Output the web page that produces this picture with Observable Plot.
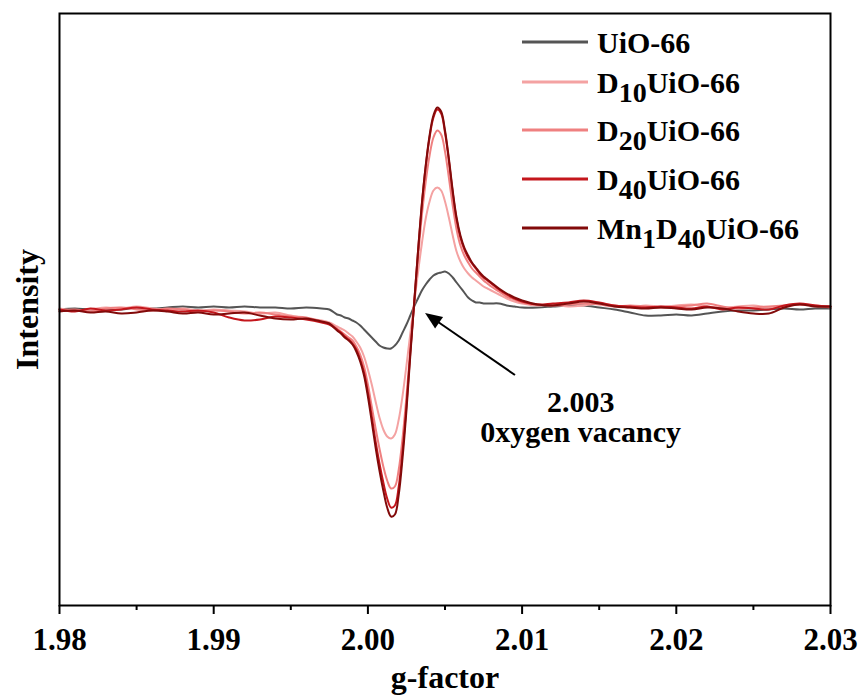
<!DOCTYPE html>
<html>
<head>
<meta charset="utf-8">
<script src="https://cdn.jsdelivr.net/npm/d3@7"></script>
<script src="https://cdn.jsdelivr.net/npm/@observablehq/plot@0.6"></script>
<style>
  html, body { margin: 0; padding: 0; background: #fff; }
  #chart { width: 863px; height: 695px; }
  #chart svg text { font-family: "Liberation Serif", "Times New Roman", serif; }
</style>
</head>
<body>
<div id="chart"></div>
<script>
// EPR spectra: g-factor sampling positions (denser across the resonance)
const gFactor = [
  1.980, 1.981, 1.982, 1.983, 1.984, 1.985, 1.986, 1.987, 1.988, 1.989,
  1.990, 1.991, 1.992, 1.993, 1.994, 1.995, 1.996, 1.997, 1.9975,
  1.99800, 1.99825, 1.99850, 1.99875, 1.99900, 1.99925, 1.99950, 1.99975,
  2.00000, 2.00025, 2.00050, 2.00075, 2.00100, 2.00125, 2.00150, 2.00175,
  2.00200, 2.00225, 2.00250, 2.00275, 2.00300, 2.00325, 2.00350, 2.00375,
  2.00400, 2.00425, 2.00450, 2.00475, 2.00500, 2.00525, 2.00550, 2.00575,
  2.00600, 2.00625, 2.00650, 2.00675, 2.00700, 2.00725, 2.00750, 2.00775,
  2.00800,
  2.0085, 2.0090, 2.0095, 2.0100,
  2.011, 2.012, 2.013, 2.014, 2.015, 2.016, 2.017, 2.018, 2.019, 2.020,
  2.021, 2.022, 2.023, 2.024, 2.025, 2.026, 2.027, 2.028, 2.029, 2.030
];

// Intensity (a.u.) of each sample at the positions above
const uio66 = [
  0, 1, 0, 1, 0, 2, 1, 2, 3, 2, 3, 2, 3, 2, 2, 1, 2, 1, 0,
  -5, -6, -8, -9, -11, -13, -16, -20, -24, -28, -32, -36, -38, -39, -39, -36,
  -31, -23, -15, -6, 3, 11, 19, 25, 30, 34, 36, 37, 38, 36, 32, 27,
  22, 17, 12, 9, 7, 7, 6, 6, 6,
  6, 4, 3, 2,
  2, 3, 4, 4, 2, 0, -3, -6, -6, -5, -6, -4, -2, -1, -1, 0, 1, 0, 1, 1
];
const d10UiO66 = [
  1, -1, 0, 2, 1, 3, 1, 0, 1, -1, 0, -1, -2, -4, -3, -6, -9, -11, -13,
  -17, -19, -21, -24, -27, -32, -38, -47, -60, -75, -92, -108, -120, -127, -129, -125,
  -110, -86, -56, -24, 6, 37, 66, 91, 108, 119, 122, 119, 108, 92, 74, 58,
  48, 41, 36, 32, 29, 26, 23, 21, 19,
  15, 11, 8, 6,
  4, 5, 3, 4, 6, 4, 2, 4, 3, 4, 5, 3, 2, 3, 4, 2, 3, 5, 4, 3
];
const d20UiO66 = [
  -1, 0, -2, 1, 2, 0, -1, 1, 0, -2, -1, -2, -4, -3, -5, -7, -8, -12, -14,
  -19, -22, -25, -28, -31, -37, -45, -57, -75, -97, -119, -139, -157, -171, -179, -177,
  -160, -128, -87, -40, 5, 51, 94, 128, 154, 172, 179, 175, 158, 132, 104, 80,
  64, 54, 47, 41, 37, 33, 29, 26, 23,
  18, 13, 10, 7,
  5, 4, 5, 6, 5, 3, 4, 3, 2, 3, 4, 6, 3, 1, 2, 3, 4, 5, 4, 2
];
const d40UiO66 = [
  0, -2, 1, -1, 0, 2, 0, -1, -2, -1, -3, -8, -11, -10, -7, -8, -10, -13, -15,
  -20, -23, -27, -30, -34, -40, -50, -63, -83, -107, -132, -154, -173, -189, -198, -196,
  -177, -141, -96, -43, 7, 58, 105, 143, 172, 192, 200, 196, 177, 149, 117, 90,
  72, 60, 52, 46, 41, 36, 32, 29, 26,
  20, 15, 11, 8,
  5, 6, 7, 9, 7, 4, 3, 2, 3, 2, 1, 3, 0, 2, 1, 0, 4, 6, 4, 3
];
const mn1D40UiO66 = [
  -2, -1, -3, -2, -4, -3, -1, -2, -4, -3, -5, -4, -3, -6, -9, -10, -9, -12, -14,
  -21, -24, -28, -31, -35, -42, -52, -66, -87, -112, -138, -161, -181, -198, -207, -205,
  -185, -148, -101, -46, 6, 58, 106, 144, 174, 194, 202, 198, 179, 151, 119, 92,
  74, 62, 54, 47, 42, 37, 33, 30, 27,
  21, 16, 12, 9,
  5, 4, 6, 8, 6, 3, 2, 1, 2, 1, 0, 2, 1, -2, -4, -4, 2, 5, 3, 3
];

const seriesNames = ["UiO-66", "D10UiO-66", "D20UiO-66", "D40UiO-66", "Mn1D40UiO-66"];
const seriesValues = [uio66, d10UiO66, d20UiO66, d40UiO66, mn1D40UiO66];
const seriesColors = ["#555555", "#f4a2a2", "#ef8080", "#c4161c", "#820a0a"];

// Legend labels split into [text, isSubscript] runs
const legendLabels = [
  [["UiO-66", 0]],
  [["D", 0], ["10", 1], ["UiO-66", 0]],
  [["D", 0], ["20", 1], ["UiO-66", 0]],
  [["D", 0], ["40", 1], ["UiO-66", 0]],
  [["Mn", 0], ["1", 1], ["D", 0], ["40", 1], ["UiO-66", 0]]
];

const majorTicks = [1.98, 1.99, 2.00, 2.01, 2.02, 2.03];
const minorTicks = [1.985, 1.995, 2.005, 2.015, 2.025];

// Annotation pointing at the oxygen-vacancy signal
const arrowEnds = [{g: 2.00957, I: -66}, {g: 2.00374, I: -4}];
const note = [{g: 2.0138, I: -81, text: "2.003\n0xygen vacancy"}];

const rows = [];
seriesNames.forEach((name, k) => {
  gFactor.forEach((g, i) => rows.push({series: name, g, I: seriesValues[k][i]}));
});

const FONT = "Liberation Serif, Times New Roman, serif";

// Filled-head arrow drawn through the plot's own scales
function arrowMark(index, scales) {
  const [a, b] = arrowEnds;
  const x1 = scales.x(a.g), y1 = scales.y(a.I);
  const x2 = scales.x(b.g), y2 = scales.y(b.I);
  const len = 17, half = 7;
  const dx = x2 - x1, dy = y2 - y1, L = Math.hypot(dx, dy);
  const ux = dx / L, uy = dy / L;
  const bx = x2 - ux * len, by = y2 - uy * len;
  const g = d3.create("svg:g");
  g.append("line")
    .attr("x1", x1).attr("y1", y1).attr("x2", bx + ux * 2).attr("y2", by + uy * 2)
    .attr("stroke", "#000").attr("stroke-width", 2);
  g.append("path")
    .attr("d", `M${x2},${y2}L${bx - uy * half},${by + ux * half}L${bx + uy * half},${by - ux * half}Z`)
    .attr("fill", "#000");
  return g.node();
}

const chart = Plot.plot({
  width: 863,
  height: 695,
  marginLeft: 59,
  marginRight: 33,
  marginTop: 13,
  marginBottom: 90,
  style: {fontFamily: FONT, background: "#fff", color: "#000", overflow: "visible"},
  x: {domain: [1.98, 2.03]},
  y: {domain: [-296, 296], axis: null},
  color: {domain: seriesNames, range: seriesColors},
  marks: [
    Plot.line(rows, {x: "g", y: "I", z: "series", stroke: "series", strokeWidth: 2, curve: "catmull-rom"}),
    Plot.frame({stroke: "#000", strokeWidth: 2}),
    Plot.axisX(majorTicks, {
      tickSize: 9, tickPadding: 13, strokeWidth: 2, fontSize: 31, fontWeight: "bold",
      tickFormat: d3.format(".2f"), label: null
    }),
    Plot.axisX(minorTicks, {tickSize: 5, strokeWidth: 2, text: null, label: null}),
    Plot.text(["g-factor"], {
      frameAnchor: "bottom", lineAnchor: "bottom", dy: 82,
      fontSize: 32, fontWeight: "bold", fill: "#000"
    }),
    Plot.text(["Intensity"], {
      frameAnchor: "left", textAnchor: "middle", lineAnchor: "middle", dx: -32, rotate: -90,
      fontSize: 32, fontWeight: "bold", fill: "#000"
    }),
    Plot.text(note, {
      x: "g", y: "I", text: "text", lineAnchor: "top", lineHeight: 1.0,
      fontSize: 30, fontWeight: "bold", fill: "#000"
    }),
    arrowMark
  ]
});

// Legend in the upper-right corner of the frame
const legend = d3.select(chart).append("g")
  .attr("font-weight", "bold").attr("text-anchor", "start");
const legendY = [42, 82, 130, 179, 228];
legendLabels.forEach((runs, k) => {
  const y = legendY[k];
  legend.append("line")
    .attr("x1", 522).attr("x2", 588).attr("y1", y).attr("y2", y)
    .attr("stroke", seriesColors[k]).attr("stroke-width", 3);
  const t = legend.append("text")
    .attr("x", 597).attr("y", y + 10.5)
    .attr("text-anchor", "start").attr("font-size", 30).attr("fill", "#000");
  let lowered = false;
  runs.forEach(([s, sub]) => {
    const span = t.append("tspan").text(s);
    if (sub && !lowered) { span.attr("dy", 9).attr("font-size", 28); lowered = true; }
    else if (sub) { span.attr("font-size", 28); }
    else if (!sub && lowered) { span.attr("dy", -9); lowered = false; }
  });
});

document.getElementById("chart").appendChild(chart);
</script>
</body>
</html>
